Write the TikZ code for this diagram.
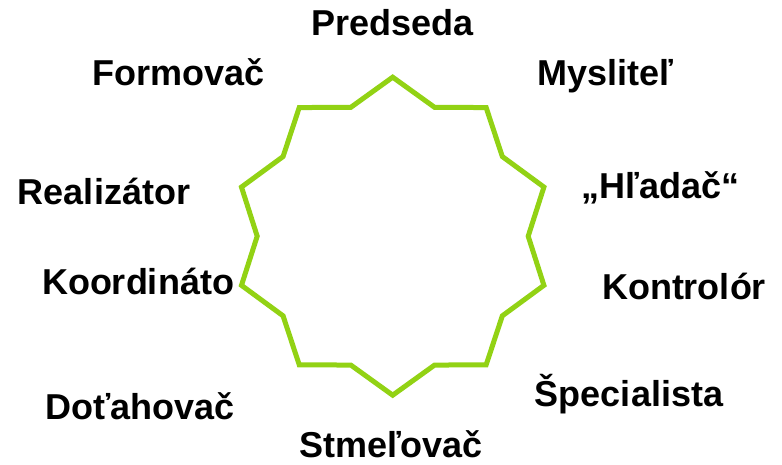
\documentclass[tikz,border=0pt]{standalone}
\usepackage{fontspec}
\setmainfont{Liberation Sans}
\usepackage{tikz}
\definecolor{lime}{RGB}{146,210,20}

\begin{document}
\begin{tikzpicture}[x=1pt,y=1pt,
  role/.style={anchor=base,inner sep=0pt,font=\fontsize{36}{40}\selectfont\bfseries}]
\useasboundingbox (0,0) rectangle (782,465);
% the star, ten points
\begin{scope}[shift={(392.7,228.8)}]
\draw[lime,line width=5pt] (90:159) \foreach \a in {72,36,...,-216} {-- (\a:135.5) -- ({\a-18}:159)} -- (-252:135.5) -- cycle;
\end{scope}
% roles round it
\node[role] (pred)  at (392.3,429) {Predseda};
\node[role] (form)  at (178.8,379) {Formovač};
\node[role] (mysl)  at (605,379)   {Mysliteľ};
\node[role] (real)  at (104,260)   {Realizátor};
\node[role] (hlad)  at (660.5,266.7) {„Hľadač“};
\node[role] (koord) at (138,170)   {Koordináto};
\node[role] (kontr) at (684,165.7) {Kontrolór};
\node[role] (dotah) at (139.7,45)  {Doťahovač};
\node[role] (spec)  at (629,58.3)  {Špecialista};
\node[role] (stmel) at (391,7)     {Stmeľovač};
\end{tikzpicture}
\end{document}
